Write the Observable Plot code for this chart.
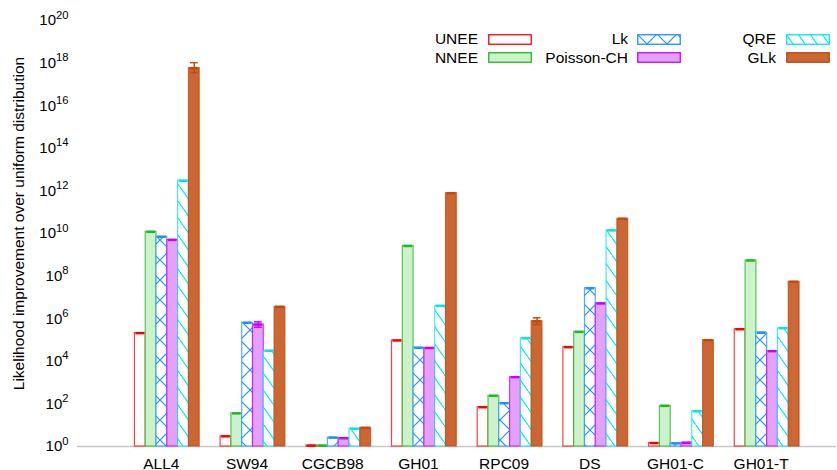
<!DOCTYPE html>
<html><head><meta charset="utf-8">
<script src="https://cdn.jsdelivr.net/npm/d3@7"></script>
<script src="https://cdn.jsdelivr.net/npm/@observablehq/plot@0.6"></script>
<style>
body{margin:0;background:#fff;font-family:"Liberation Sans",Arial,sans-serif;}
#wrap{position:relative;width:837px;height:470px;}
.lg{position:absolute;font-size:15.5px;line-height:18px;color:#000;white-space:nowrap;}
.sw{position:absolute;}
</style></head><body>
<svg width="0" height="0" style="position:absolute">
<defs>
<pattern id="patLk" patternUnits="userSpaceOnUse" width="20" height="20">
<rect width="20" height="20" fill="white"/>
<path d="M0,0L20,20M20,0L0,20" stroke="#1e90ff" stroke-width="1.1" fill="none"/>
</pattern>
<pattern id="patQRE" patternUnits="userSpaceOnUse" width="12" height="17">
<rect width="12" height="17" fill="white"/>
<path d="M-6,-8.5L18,25.5" stroke="#00e5ee" stroke-width="1.1" fill="none"/>
</pattern>
</defs>
</svg>
<div id="wrap"></div>
<script>
const groups = ["ALL4","SW94","CGCB98","GH01","RPC09","DS","GH01-C","GH01-T"];
const seriesNames = ["UNEE","NNEE","Lk","Poisson-CH","QRE","GLk"];
const UNEE      = [2.1e5, 3,     1.1,  9.5e4,  70,    4.6e4,  1.45, 3.2e5];
const NNEE      = [1.2e10, 36,   1.1,  2.6e9,  240,   2.4e5,  81,   5.4e8];
const Lk        = [7e9,   6.4e5, 2.6,  4.3e4,  108,   2.7e7,  1.4,  2.2e5];
const PoissonCH = [5e9,   5.3e5, 2.45, 4.2e4,  1.8e3, 5.2e6,  1.5,  3e4];
const QRE       = [3e12,  3.1e4, 6.8,  4e6,    1.2e5, 1.4e10, 45,   3.6e5];
const GLk       = [5.8e17, 3.6e6, 7.5, 7.8e11, 7.6e5, 4.9e10, 9.8e4, 5.4e7];
const seriesValues = [UNEE, NNEE, Lk, PoissonCH, QRE, GLk];

const errGroup  = ["ALL4", "SW94", "RPC09"];
const errSeries = ["GLk", "Poisson-CH", "GLk"];
const errLow    = [3.6e17, 4.0e5, 5.3e5];
const errHigh   = [1.05e18, 7.1e5, 1.1e6];

const yTicks = [1, 1e2, 1e4, 1e6, 1e8, 1e10, 1e12, 1e14, 1e16, 1e18, 1e20];
const yTitle = "Likelihood improvement over uniform distribution";

const fills   = ["white", "#ccf2cc", "url(#patLk)", "#e4a0fa", "url(#patQRE)", "#cc6633"];
const strokes = ["#ff0000", "#22b822", "#1e90ff", "#cc00ff", "#00e5ee", "#c04a10"];

const bw = 0.126;
const bars = groups.flatMap((g, gi) => seriesNames.map((s, si) => ({
  group: g, series: s, gi, si, value: seriesValues[si][gi],
  x1: gi + (si - 3) * bw, x2: gi + (si - 2) * bw
})));
const errs = errGroup.map((g, i) => {
  const gi = groups.indexOf(g), si = seriesNames.indexOf(errSeries[i]);
  return {gi, si, xc: gi + (si - 2.5) * bw, low: errLow[i], high: errHigh[i]};
});

const marks = [
  Plot.ruleY([1], {stroke: "#c8c8c8", strokeWidth: 1.5}),
  Plot.axisY({ticks: yTicks, tickSize: 0, tickPadding: 9, fontSize: 15,
    tickFormat: d => String(Math.round(Math.log10(d))), label: null}),
  Plot.axisX({ticks: groups.map((g, i) => i), tickSize: 0, tickPadding: 11, fontSize: 15.5,
    tickFormat: i => groups[i], label: null, dx: -6}),
  Plot.text([yTitle], {frameAnchor: "left", textAnchor: "middle", rotate: -90, dx: -58, dy: -10, fontSize: 15.5, fill: "#000"})
];
seriesNames.forEach((s, si) => {
  const d = bars.filter(b => b.si === si);
  marks.push(Plot.rectY(d, {x1: "x1", x2: "x2", y1: () => 1, y2: "value",
    fill: fills[si], stroke: strokes[si], strokeWidth: 1.2, strokeOpacity: 0.75}));
  marks.push(Plot.ruleY(d, {y: "value", x1: b => b.x1 + 0.012, x2: b => b.x2 - 0.012,
    stroke: strokes[si], strokeWidth: 2.5}));
});
errs.forEach(e => {
  const c = strokes[e.si];
  marks.push(Plot.ruleX([e], {x: "xc", y1: "low", y2: "high", stroke: c, strokeWidth: 1.5}));
  marks.push(Plot.ruleY([e], {y: "low", x1: d => d.xc - 0.045, x2: d => d.xc + 0.045, stroke: c, strokeWidth: 1.5}));
  marks.push(Plot.ruleY([e], {y: "high", x1: d => d.xc - 0.045, x2: d => d.xc + 0.045, stroke: c, strokeWidth: 1.5}));
});

const chart = Plot.plot({
  width: 837, height: 470,
  marginLeft: 77, marginRight: 1, marginTop: 20, marginBottom: 24,
  style: {fontFamily: "'Liberation Sans', Arial, sans-serif", color: "#000", background: "white", overflow: "visible"},
  x: {domain: [-1.048, 7.809]},
  y: {type: "log", domain: [1, 1e20]},
  marks
});

const ns = "http://www.w3.org/2000/svg";
chart.querySelectorAll('g[aria-label="y-axis tick label"] text').forEach(t => {
  const e = t.textContent;
  t.textContent = "";
  const a = document.createElementNS(ns, "tspan"); a.textContent = "10";
  const b = document.createElementNS(ns, "tspan"); b.textContent = e;
  b.setAttribute("font-size", "0.75em"); b.setAttribute("dy", "-0.6em");
  t.appendChild(a); t.appendChild(b);
});

const wrap = document.getElementById("wrap");
wrap.appendChild(chart);

// legend overlay
const labelRight = [478, 628, 776];
const swatchX = [488, 637, 786];
const rowY = [39, 57.7];
seriesNames.forEach((s, si) => {
  const col = Math.floor(si / 2), row = si % 2;
  const lab = document.createElement("div");
  lab.className = "lg";
  lab.textContent = s;
  lab.style.right = (837 - labelRight[col]) + "px";
  lab.style.top = (rowY[row] - 9) + "px";
  wrap.appendChild(lab);
  const sw = document.createElementNS(ns, "svg");
  sw.setAttribute("class", "sw");
  sw.setAttribute("width", 44); sw.setAttribute("height", 11);
  sw.style.left = swatchX[col] + "px";
  sw.style.top = (rowY[row] - 5.5) + "px";
  const r = document.createElementNS(ns, "rect");
  r.setAttribute("x", 0.75); r.setAttribute("y", 0.75);
  r.setAttribute("width", 42.5); r.setAttribute("height", 9.5);
  r.setAttribute("fill", fills[si]); r.setAttribute("stroke", strokes[si]);
  r.setAttribute("stroke-width", 1.3);
  sw.appendChild(r);
  wrap.appendChild(sw);
});
</script>
</body></html>
